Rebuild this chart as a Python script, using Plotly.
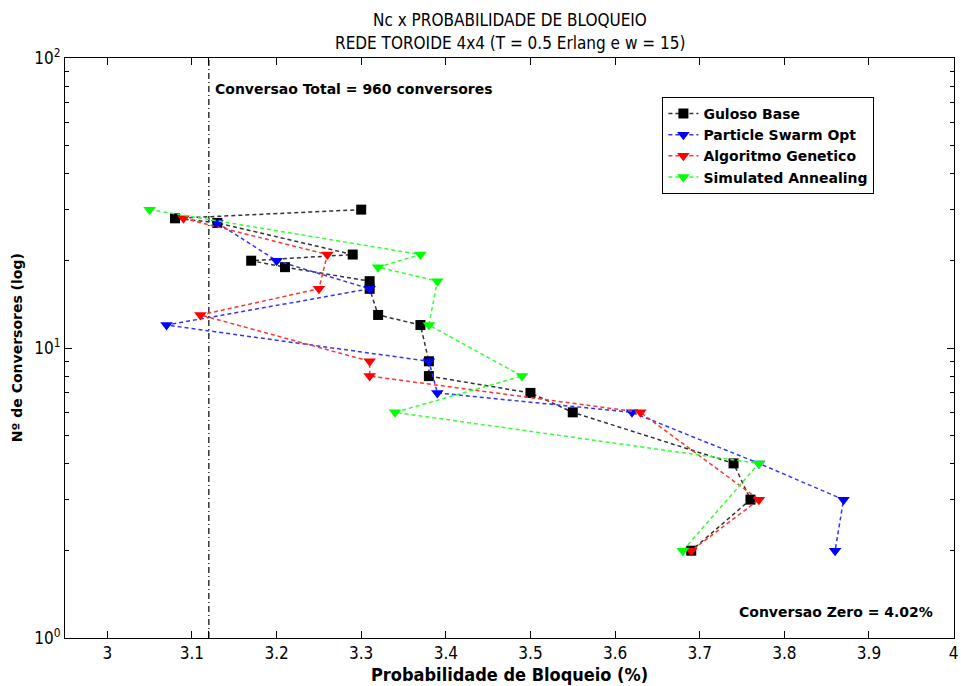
import plotly.graph_objects as go

# ---- data ----
guloso_x = [3.30, 3.08, 3.13, 3.29, 3.17, 3.21, 3.31, 3.31, 3.32, 3.37, 3.38, 3.38, 3.50, 3.55, 3.74, 3.76, 3.69]
guloso_y = [30, 28, 27, 21, 20, 19, 17, 16, 13, 12, 9, 8, 7, 6, 4, 3, 2]

pso_x = [3.13, 3.20, 3.31, 3.07, 3.38, 3.39, 3.62, 3.77, 3.87, 3.86]
pso_y = [27, 20, 16, 12, 9, 7, 6, 4, 3, 2]

ag_x = [3.09, 3.26, 3.25, 3.11, 3.31, 3.31, 3.63, 3.77, 3.69]
ag_y = [28, 21, 16, 13, 9, 8, 6, 3, 2]

sa_x = [3.05, 3.37, 3.32, 3.39, 3.38, 3.49, 3.34, 3.77, 3.68]
sa_y = [30, 21, 19, 17, 12, 8, 6, 4, 2]

conv_total_x = 3.12
x_ticks = [3.0, 3.1, 3.12, 3.2, 3.3, 3.4, 3.5, 3.6, 3.7, 3.8, 3.9, 4.0]
x_labels = ["3", "3.1", "", "3.2", "3.3", "3.4", "3.5", "3.6", "3.7", "3.8", "3.9", "4"]
y_label_alias = {"1": "10<sup>0</sup>", "10": "10<sup>1</sup>", "100": "10<sup>2</sup>"}

narrow = "Liberation Sans Narrow, DejaVu Sans Condensed, Arial Narrow, sans-serif"
boldf = "DejaVu Sans, Liberation Sans, Arial, sans-serif"

fig = go.Figure()

fig.add_trace(go.Scatter(x=[conv_total_x, conv_total_x], y=[1, 100], mode="lines",
                         line=dict(color="black", width=1.2, dash="6px,3px,1px,3px"),
                         showlegend=False, hoverinfo="skip"))

dash = "4px,3px"
fig.add_trace(go.Scatter(x=guloso_x, y=guloso_y, mode="lines+markers", name="Guloso Base",
                         line=dict(color="#333333", width=1.5, dash=dash),
                         marker=dict(symbol="square", size=10, color="black")))
fig.add_trace(go.Scatter(x=pso_x, y=pso_y, mode="lines+markers", name="Particle Swarm Opt",
                         line=dict(color="#3333ff", width=1.5, dash=dash),
                         marker=dict(symbol="triangle-down", size=11, color="#0000ff")))
fig.add_trace(go.Scatter(x=ag_x, y=ag_y, mode="lines+markers", name="Algoritmo Genetico",
                         line=dict(color="#ff3333", width=1.5, dash=dash),
                         marker=dict(symbol="triangle-down", size=11, color="#ff0000")))
fig.add_trace(go.Scatter(x=sa_x, y=sa_y, mode="lines+markers", name="Simulated Annealing",
                         line=dict(color="#33ff33", width=1.5, dash=dash),
                         marker=dict(symbol="triangle-down", size=11, color="#00ff00")))

fig.update_layout(
    width=961, height=686,
    margin=dict(l=65, r=3, t=58, b=48),
    paper_bgcolor="white", plot_bgcolor="white",
    showlegend=True,
    legend=dict(x=0.672, y=0.933, xanchor="left", yanchor="top",
                bordercolor="black", borderwidth=1, bgcolor="white",
                font=dict(family=boldf, size=14, color="black", weight="bold"),
                tracegroupgap=0, itemwidth=30),
)

fig.update_xaxes(range=[2.95, 4.0005], tickmode="array", tickvals=x_ticks, ticktext=x_labels,
                 ticks="inside", ticklen=7, tickcolor="black", showline=True, linecolor="black",
                 linewidth=1, mirror="ticks", showgrid=False, zeroline=False,
                 ticklabeloverflow="allow",
                 tickfont=dict(family=narrow, size=17, color="black"))
fig.update_yaxes(type="log", range=[0, 2], tickmode="linear", tick0=0, dtick=1,
                 exponentformat="none", labelalias=y_label_alias,
                 ticks="inside", ticklen=7, tickcolor="black", showline=True, linecolor="black",
                 linewidth=1, mirror="ticks", showgrid=False, zeroline=False,
                 tickfont=dict(family=narrow, size=17, color="black"),
                 minor=dict(ticks="inside", ticklen=4, tickcolor="black", dtick="D1", showgrid=False))

fig.add_annotation(text="Nc x PROBABILIDADE DE BLOQUEIO", xref="paper", yref="paper",
                   x=0.5, y=1 + 38 / 580, xanchor="center", yanchor="middle", showarrow=False,
                   font=dict(family=narrow, size=17, color="black"))
fig.add_annotation(text="REDE TOROIDE 4x4 (T = 0.5 Erlang e w = 15)", xref="paper", yref="paper",
                   x=0.5, y=1 + 15 / 580, xanchor="center", yanchor="middle", showarrow=False,
                   font=dict(family=narrow, size=17, color="black"))
fig.add_annotation(text="<b>Probabilidade de Bloqueio (%)</b>", xref="paper", yref="paper",
                   x=0.5, y=-36 / 580, xanchor="center", yanchor="middle", showarrow=False,
                   font=dict(family=narrow, size=18, color="black"))
fig.add_annotation(text="<b>Nº de Conversores (log)</b>", xref="paper", yref="paper",
                   x=-48 / 893, y=0.5, xanchor="center", yanchor="middle", showarrow=False, textangle=-90,
                   font=dict(family=boldf, size=14, color="black"))
fig.add_annotation(text="<b>Conversao Total = 960 conversores</b>", x=conv_total_x, y=1.893,
                   xanchor="left", yanchor="middle", xshift=4, showarrow=False,
                   font=dict(family=boldf, size=14, color="black"))
fig.add_annotation(text="<b>Conversao Zero = 4.02%</b>", x=3.978, y=0.09,
                   xanchor="right", yanchor="middle", showarrow=False,
                   font=dict(family=boldf, size=14, color="black"))

fig.write_html("out.html")
